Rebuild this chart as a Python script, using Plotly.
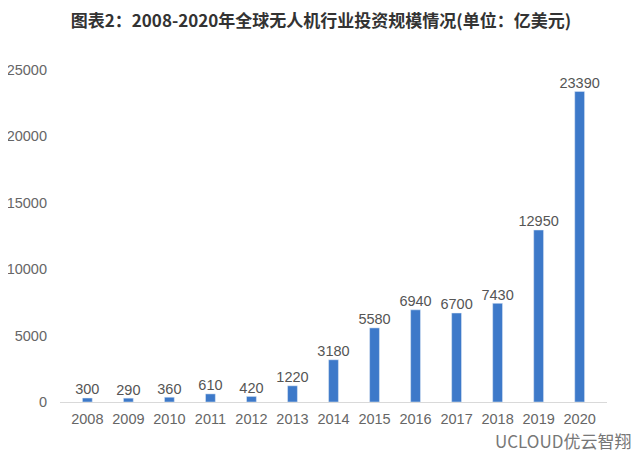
import plotly.graph_objects as go

years = ["2008", "2009", "2010", "2011", "2012", "2013", "2014", "2015", "2016", "2017", "2018", "2019", "2020"]
values = [300, 290, 360, 610, 420, 1220, 3180, 5580, 6940, 6700, 7430, 12950, 23390]
y_ticks = [0, 5000, 10000, 15000, 20000, 25000]

# page body has an 8px default margin, so the figure is sized 632x462
W, H = 632, 462
L, R, T, B = 52, 33, 62, 68

fig = go.Figure()
fig.add_trace(go.Bar(
    x=years, y=values,
    marker=dict(color="#3D79C9"),
    hoverinfo="x+y",
))
fig.add_trace(go.Scatter(
    x=years, y=values, mode="text",
    text=[str(v) for v in values], textposition="top center",
    textfont=dict(size=14.5, color="#555555", family="Liberation Sans"),
    cliponaxis=False, hoverinfo="skip",
))
pw, ph = W - L - R, H - T - B
fig.update_layout(
    width=W, height=H,
    margin=dict(l=L, r=R, t=T, b=B, autoexpand=False),
    paper_bgcolor="white", plot_bgcolor="white",
    bargap=0.76, showlegend=False,
    title=dict(text="<b>图表2：2008-2020年全球无人机行业投资规模情况(单位：亿美元)</b>",
               x=313 / W, xanchor="center", y=1 - 13.5 / H, yanchor="middle",
               font=dict(size=17, color="#333333", family="Noto Sans CJK SC")),
    font=dict(family="Liberation Sans", color="#595959", size=14),
    xaxis=dict(type="category", showline=True, linecolor="#D9D9D9", linewidth=1,
               ticks="", ticklabelstandoff=4,
               tickfont=dict(size=14.5, color="#666666"), automargin=False),
    yaxis=dict(range=[0, 25000], tickvals=y_ticks, ticktext=[str(t) for t in y_ticks],
               showgrid=False, zeroline=False, automargin=False,
               showline=False, ticks="", ticklen=0, ticklabelstandoff=12,
               tickfont=dict(size=14.5, color="#666666")),
    annotations=[dict(text="UCLOUD优云智翔", showarrow=False,
                      xref="paper", yref="paper",
                      x=(625 - L) / pw, xanchor="right",
                      y=-(432 - (H - B)) / ph, yanchor="middle",
                      font=dict(size=17, color="#777777", family="Noto Sans CJK SC"))],
)
fig.write_html("out.html")
